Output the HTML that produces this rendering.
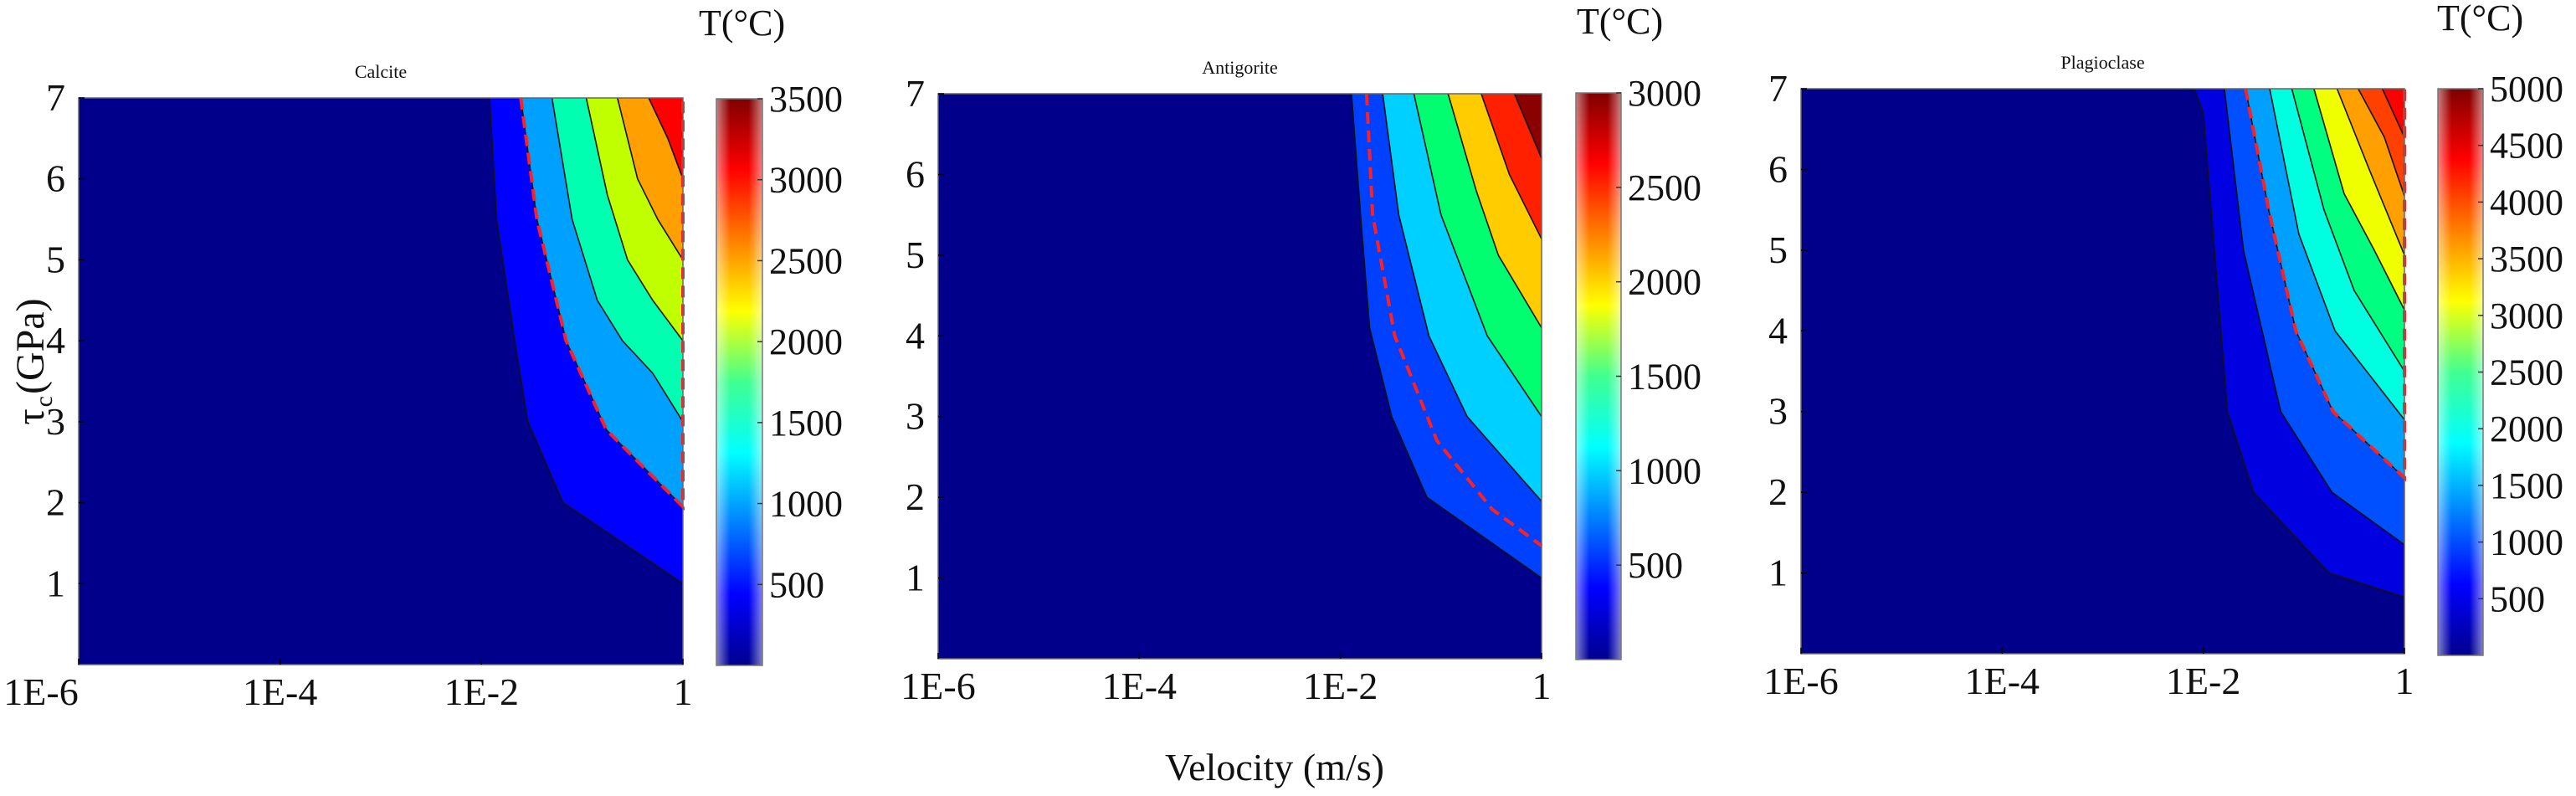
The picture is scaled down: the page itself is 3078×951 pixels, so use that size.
<!DOCTYPE html>
<html><head><meta charset="utf-8"><style>
html,body{margin:0;padding:0;background:#fff;}
svg{display:block;}
text{font-family:"Liberation Serif",serif;fill:#111;}
</style></head><body>
<svg id="fig" width="3078" height="951" viewBox="0 0 3078 951" xmlns="http://www.w3.org/2000/svg" font-family="Liberation Serif, serif">
<defs>
<linearGradient id="jet" x1="0" y1="1" x2="0" y2="0">
<stop offset="0" stop-color="#00008f"/><stop offset="0.125" stop-color="#0000ff"/>
<stop offset="0.375" stop-color="#00ffff"/><stop offset="0.5" stop-color="#40ff90"/>
<stop offset="0.625" stop-color="#ffff00"/><stop offset="0.875" stop-color="#ff0000"/>
<stop offset="1" stop-color="#800000"/></linearGradient>
<linearGradient id="gloss" x1="0" y1="0" x2="1" y2="0">
<stop offset="0" stop-color="#fff" stop-opacity="0.5"/><stop offset="0.3" stop-color="#fff" stop-opacity="0"/>
<stop offset="0.7" stop-color="#fff" stop-opacity="0"/><stop offset="1" stop-color="#fff" stop-opacity="0.5"/></linearGradient>
</defs>
<text x="1523" y="932" font-size="46" text-anchor="middle">Velocity (m/s)</text>
<text transform="translate(52,432) rotate(-90)" font-size="48" text-anchor="middle">τ<tspan font-size="30" dx="2" dy="10">c</tspan><tspan dx="2" dy="-10">(GPa)</tspan></text>
</svg>
<script>
// ---- data (log10 velocity, tau GPa) ----
const xTickValues = [-6, -4, -2, 0];
const xTickLabels = ["1E-6", "1E-4", "1E-2", "1"];
const yTickValues = [1, 2, 3, 4, 5, 6, 7];
const panelTitles = ["Calcite", "Antigorite", "Plagioclase"];
const cbarMax = [3500, 3000, 5000];
const cbarTicks1 = [500, 1000, 1500, 2000, 2500, 3000, 3500];
const cbarTicks2 = [500, 1000, 1500, 2000, 2500, 3000];
const cbarTicks3 = [500, 1000, 1500, 2000, 2500, 3000, 3500, 4000, 4500, 5000];
const calciteColors = ["#0000ff", "#00a0ff", "#00ffb0", "#bfff00", "#ffa000", "#ff0000"];
const calciteBounds = [
 [[-1.92,7],[-1.85,5.5],[-1.67,4],[-1.54,3],[-1.19,2],[0,1]],
 [[-1.61,7],[-1.45,5.5],[-1.16,4],[-0.76,2.9],[0,1.95]],
 [[-1.30,7],[-1.1,5.5],[-0.85,4.5],[-0.6,4],[-0.3,3.6],[0,3.0]],
 [[-0.96,7],[-0.75,5.8],[-0.55,5],[-0.3,4.5],[0,4]],
 [[-0.65,7],[-0.45,6],[-0.25,5.5],[0,5]],
 [[-0.34,7],[-0.15,6.5],[0,6]]];
const calciteRed = [[-1.61,7],[-1.45,5.5],[-1.16,4],[-0.76,2.9],[0,1.95],[0,7]];
const antigoriteColors = ["#0040ff", "#00d0ff", "#00ff70", "#ffcc00", "#ff2000", "#8b0000"];
const antigoriteBounds = [
 [[-1.89,7],[-1.80,5.5],[-1.71,4.1],[-1.49,3],[-1.14,2],[0,1.0]],
 [[-1.58,7],[-1.42,5.5],[-1.12,4],[-0.74,3],[0,1.95]],
 [[-1.27,7],[-1.0,5.5],[-0.54,4],[0,3]],
 [[-0.93,7],[-0.65,5.8],[-0.43,5],[0,4.1]],
 [[-0.6,7],[-0.32,6],[0,5.2]],
 [[-0.27,7],[0,6.2]]];
const antigoriteRed = [[-1.74,7],[-1.68,5.5],[-1.46,4],[-1.04,2.7],[-0.49,1.85],[0,1.4]];
const plagColors = ["#0000e0", "#0050ff", "#00a0ff", "#00ffe0", "#00ff80", "#f0ff00", "#ffa000", "#ff4000", "#ff0000"];
const plagBounds = [
 [[-2.09,7],[-2.0,6.7],[-1.76,3],[-1.5,2],[-0.75,1],[0,0.7]],
 [[-1.79,7],[-1.6,5],[-1.23,3],[-0.72,2],[0,1.35]],
 [[-1.58,7],[-1.35,5.5],[-1.08,4],[-0.71,3],[0,2.18]],
 [[-1.34,7],[-1.05,5.2],[-0.69,4],[0,2.9]],
 [[-1.12,7],[-0.8,5.5],[-0.5,4.5],[0,3.5]],
 [[-0.9,7],[-0.6,5.7],[-0.3,5],[0,4.26]],
 [[-0.67,7],[-0.35,6],[0,4.94]],
 [[-0.46,7],[-0.2,6.4],[0,5.67]],
 [[-0.22,7],[0,6.4]]];
const plagRed = [[-1.58,7],[-1.35,5.5],[-1.08,4],[-0.71,3],[0,2.18],[0,7]];

const panels = [
 {name:"calcite", L:94, R:816, T:117, B:794, cbL:856, cbR:911, cbT:118, cbB:795, titleY:93, tx:835, ty:42, first:-45,
  colors:calciteColors, bounds:calciteBounds, red:calciteRed, cticks:cbarTicks1, cmax:cbarMax[0], title:panelTitles[0]},
 {name:"antigorite", L:1121, R:1842, T:112, B:787, cbL:1883, cbR:1937, cbT:111, cbB:788, titleY:88, tx:1884, ty:40, first:0,
  colors:antigoriteColors, bounds:antigoriteBounds, red:antigoriteRed, cticks:cbarTicks2, cmax:cbarMax[1], title:panelTitles[1]},
 {name:"plagioclase", L:2152, R:2873, T:106, B:781, cbL:2913, cbR:2967, cbT:106, cbB:783, titleY:82, tx:2912, ty:36, first:0,
  colors:plagColors, bounds:plagBounds, red:plagRed, cticks:cbarTicks3, cmax:cbarMax[2], title:panelTitles[2]}
];
const NS = "http://www.w3.org/2000/svg";
const svg = document.getElementById("fig");
function mk(tag, attrs, parent){const e=document.createElementNS(NS,tag);for(const k in attrs)e.setAttribute(k,attrs[k]);(parent||svg).appendChild(e);return e;}

panels.forEach(p=>{
  const xs = v => p.L + (v+6)/6*(p.R-p.L);
  const ys = t => p.B - t/7*(p.B-p.T);
  const g = mk("g",{});
  
  
  const bg = mk("rect",{x:p.L,y:p.T,width:p.R-p.L,height:p.B-p.T,fill:"#00008b"},g);
  
  
  p.bounds.forEach((b,i)=>{
    const pts = b.map(q=>xs(q[0])+","+ys(q[1])).join(" ")+" "+xs(0)+","+ys(7);
    const poly = mk("polygon",{points:pts,fill:p.colors[i]},g);
    
    
    const ln = mk("polyline",{points:b.map(q=>xs(q[0])+","+ys(q[1])).join(" "),fill:"none",stroke:"#111","stroke-width":1.6},g);
    
    
  });
  const red = mk("polyline",{points:p.red.map(q=>xs(q[0])+","+ys(q[1])).join(" "),fill:"none",stroke:"#ff2020","stroke-width":4,"stroke-dasharray":"14 8"},g);
  
  
  const fr = mk("rect",{x:p.L,y:p.T,width:p.R-p.L,height:p.B-p.T,fill:"none",stroke:"#666","stroke-width":1.5},g);
  
  
  xTickValues.forEach((v,i)=>{
    mk("line",{x1:xs(v),x2:xs(v),y1:p.B,y2:p.B-7,stroke:"#000","stroke-width":1.5},g);
    const t = mk("text",{x:xs(v)+(i===0?p.first:0),y:p.B+48,"font-size":46,"text-anchor":"middle"},g);
    t.textContent = xTickLabels[i];
    
    
  });
  yTickValues.forEach(v=>{
    mk("line",{x1:p.L,x2:p.L+7,y1:ys(v),y2:ys(v),stroke:"#000","stroke-width":1.5},g);
    const t = mk("text",{x:p.L-16,y:ys(v)+15,"font-size":46,"text-anchor":"end"},g);
    t.textContent = String(v);
    
    
  });
  const tt = mk("text",{x:(p.L+p.R)/2,y:p.titleY,"font-size":22,"text-anchor":"middle"},g);
  tt.textContent = p.title;
  
  
  const cb = mk("rect",{x:p.cbL,y:p.cbT,width:p.cbR-p.cbL,height:p.cbB-p.cbT,fill:"url(#jet)"},g);
  
  
  mk("rect",{x:p.cbL,y:p.cbT,width:p.cbR-p.cbL,height:p.cbB-p.cbT,fill:"url(#gloss)",stroke:"#777","stroke-width":1.5},g);
  const cy = v => p.cbB - v/p.cmax*(p.cbB-p.cbT);
  p.cticks.forEach(v=>{
    mk("line",{x1:p.cbR-6,x2:p.cbR,y1:cy(v),y2:cy(v),stroke:"#333","stroke-width":1.5},g);
    const t = mk("text",{x:p.cbR+8,y:cy(v)+15,"font-size":44},g);
    t.textContent = String(v);
    
    
  });
  const ct = mk("text",{x:p.tx,y:p.ty,"font-size":44},g);
  ct.textContent = "T(°C)";
  
  
});
</script>
</body></html>
